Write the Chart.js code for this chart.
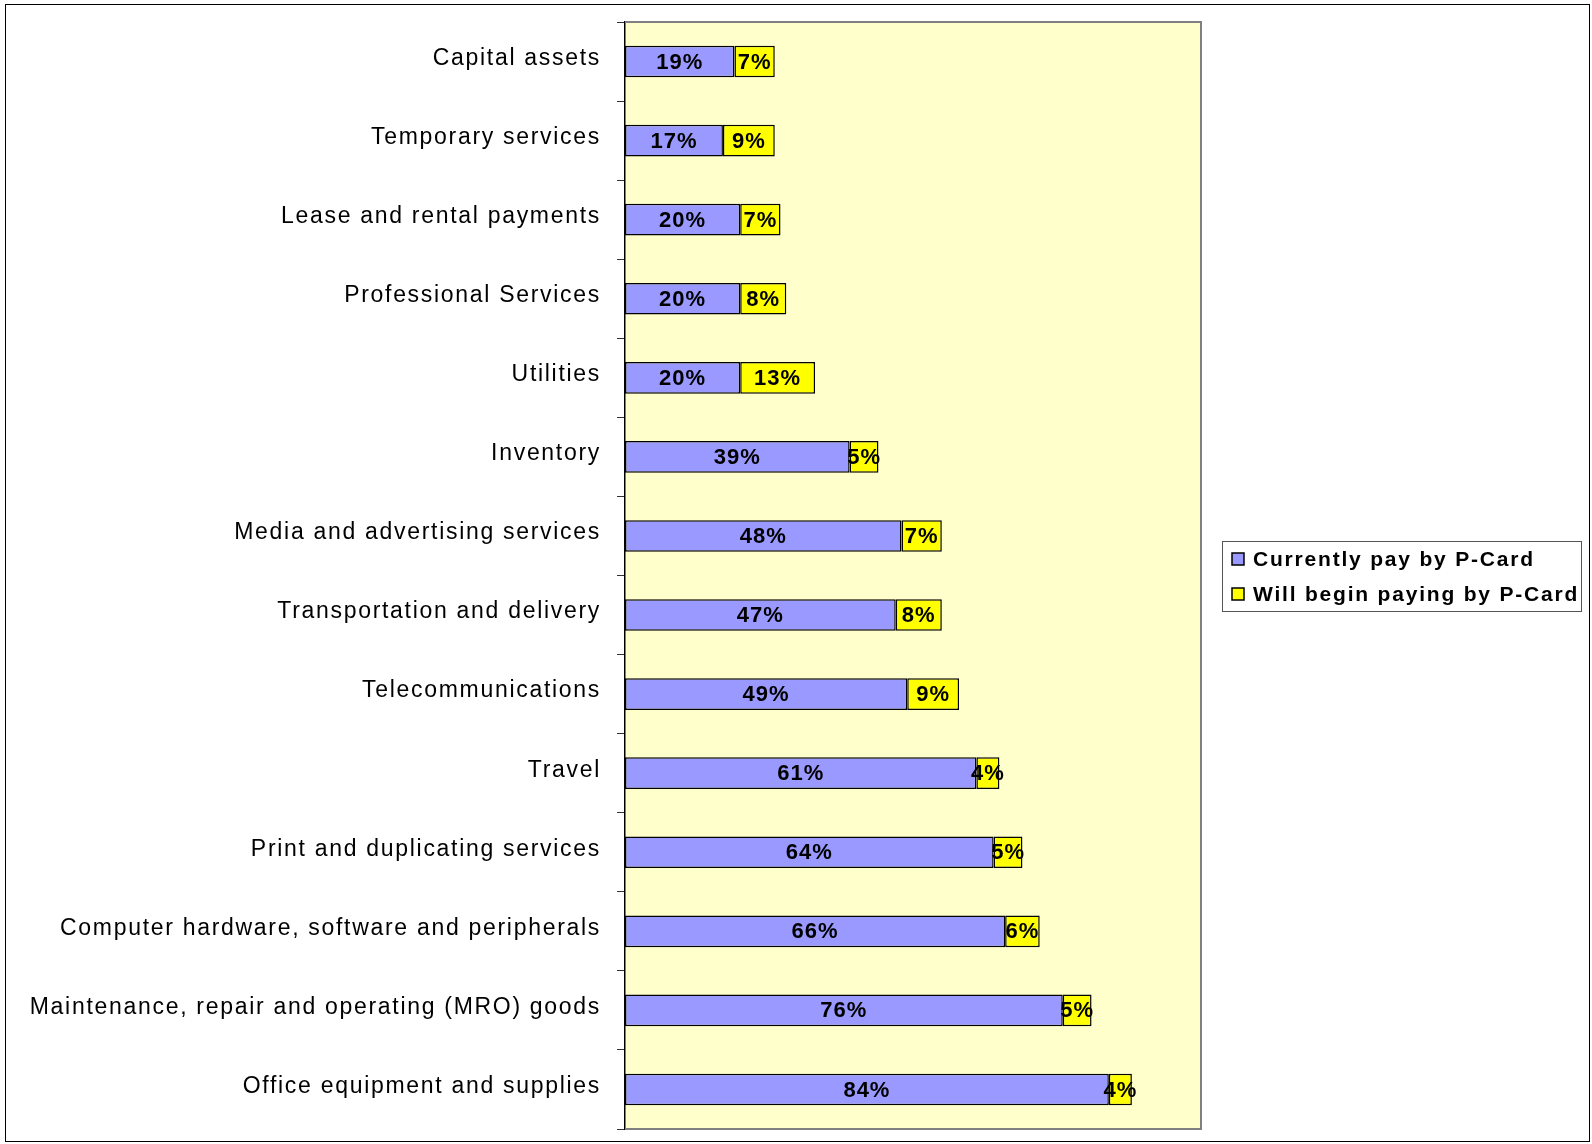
<!DOCTYPE html>
<html>
<head>
<meta charset="utf-8">
<script src="https://cdn.jsdelivr.net/npm/chart.js@4"></script>
<style>
  html, body { margin: 0; padding: 0; background: #fff; }
  canvas { display: block; }
</style>
</head>
<body>
<canvas id="chart" width="1592" height="1144"></canvas>
<script>
// Categories, top to bottom
const categories = [
    'Capital assets',
    'Temporary services',
    'Lease and rental payments',
    'Professional Services',
    'Utilities',
    'Inventory',
    'Media and advertising services',
    'Transportation and delivery',
    'Telecommunications',
    'Travel',
    'Print and duplicating services',
    'Computer hardware, software and peripherals',
    'Maintenance, repair and operating (MRO) goods',
    'Office equipment and supplies'
];
const currentlyPay = [19, 17, 20, 20, 20, 39, 48, 47, 49, 61, 64, 66, 76, 84];
const willBeginPaying = [7, 9, 7, 8, 13, 5, 7, 8, 9, 4, 5, 6, 5, 4];
const seriesNames = ['Currently pay by P-Card', 'Will begin paying by P-Card'];
const seriesColors = ['#9999FF', '#FFFF00'];

const FONT = '"Liberation Sans", Arial, sans-serif';

// Plot background, plot border and outer frame
const backgroundPlugin = {
    id: 'plotBackground',
    beforeDraw(chart) {
        const { ctx, chartArea: a } = chart;
        ctx.save();
        ctx.fillStyle = '#FFFFCC';
        ctx.fillRect(a.left, a.top, a.right - a.left, a.bottom - a.top);
        ctx.restore();
        ctx.letterSpacing = '1.7px';
    },
    afterDraw(chart) {
        const { ctx, chartArea: a } = chart;
        ctx.save();
        ctx.strokeStyle = '#808080';
        ctx.lineWidth = 2;
        ctx.beginPath();
        ctx.moveTo(a.left, a.top);
        ctx.lineTo(a.right, a.top);
        ctx.lineTo(a.right, a.bottom);
        ctx.lineTo(a.left, a.bottom);
        ctx.stroke();
        ctx.strokeStyle = '#000';
        ctx.lineWidth = 1;
        ctx.strokeRect(5.5, 4.5, chart.width - 8, chart.height - 7);
        ctx.restore();
    }
};

// Percent labels centered in each bar segment
const barLabelPlugin = {
    id: 'barLabels',
    afterDatasetsDraw(chart) {
        const ctx = chart.ctx;
        ctx.save();
        ctx.letterSpacing = '1px';
        ctx.font = 'bold 22px ' + FONT;
        ctx.fillStyle = '#000';
        ctx.textAlign = 'center';
        ctx.textBaseline = 'middle';
        chart.data.datasets.forEach((ds, i) => {
            chart.getDatasetMeta(i).data.forEach((bar, j) => {
                const x = (bar.x + bar.base) / 2;
                ctx.fillText(ds.data[j] + '%', x, bar.y + 1);
            });
        });
        ctx.restore();
    }
};

// Boxed legend on the right
const legendPlugin = {
    id: 'boxLegend',
    afterDraw(chart) {
        const { ctx, chartArea: a } = chart;
        const left = a.right + 21;
        const top = 541;
        ctx.save();
        ctx.letterSpacing = '1.8px';
        ctx.strokeStyle = '#555';
        ctx.lineWidth = 1;
        ctx.strokeRect(left + 0.5, top + 0.5, 359, 70);
        ctx.font = 'bold 21px ' + FONT;
        ctx.textAlign = 'left';
        ctx.textBaseline = 'middle';
        seriesNames.forEach((name, i) => {
            const y = top + 18 + i * 35;
            ctx.fillStyle = seriesColors[i];
            ctx.fillRect(left + 10, y - 6, 12, 12);
            ctx.strokeStyle = '#000';
            ctx.lineWidth = 1.5;
            ctx.strokeRect(left + 10, y - 6, 12, 12);
            ctx.fillStyle = '#000';
            ctx.fillText(name, left + 31, y + 1);
        });
        ctx.restore();
    }
};

const ctx = document.getElementById('chart').getContext('2d');
const chart = new Chart(ctx, {
    type: 'bar',
    data: {
        labels: categories,
        datasets: [
            {
                label: seriesNames[0],
                data: currentlyPay,
                backgroundColor: seriesColors[0],
                borderColor: '#000',
                borderWidth: 1.5,
                borderSkipped: false,
                categoryPercentage: 1,
                barPercentage: 0.4
            },
            {
                label: seriesNames[1],
                data: willBeginPaying,
                backgroundColor: seriesColors[1],
                borderColor: '#000',
                borderWidth: 1.5,
                borderSkipped: false,
                categoryPercentage: 1,
                barPercentage: 0.4
            }
        ]
    },
    options: {
        indexAxis: 'y',
        responsive: false,
        animation: false,
        layout: { padding: { left: 0, top: 22, right: 391, bottom: 15 } },
        plugins: {
            legend: { display: false },
            tooltip: { enabled: false }
        },
        scales: {
            x: {
                stacked: true,
                min: 0,
                max: 100,
                display: false
            },
            y: {
                stacked: true,
                afterFit(scale) {
                    scale.width = 625;
                    scale.paddingTop = 0;
                    scale.paddingBottom = 0;
                },
                border: { display: true, color: '#000', width: 1.5 },
                grid: {
                    drawOnChartArea: false,
                    drawTicks: true,
                    tickLength: 8,
                    color: '#333'
                },
                ticks: {
                    color: '#000',
                    padding: 16,
                    labelOffset: -3,
                    font: { family: FONT, size: 23 }
                }
            }
        }
    },
    plugins: [backgroundPlugin, barLabelPlugin, legendPlugin]
});
</script>
</body>
</html>
